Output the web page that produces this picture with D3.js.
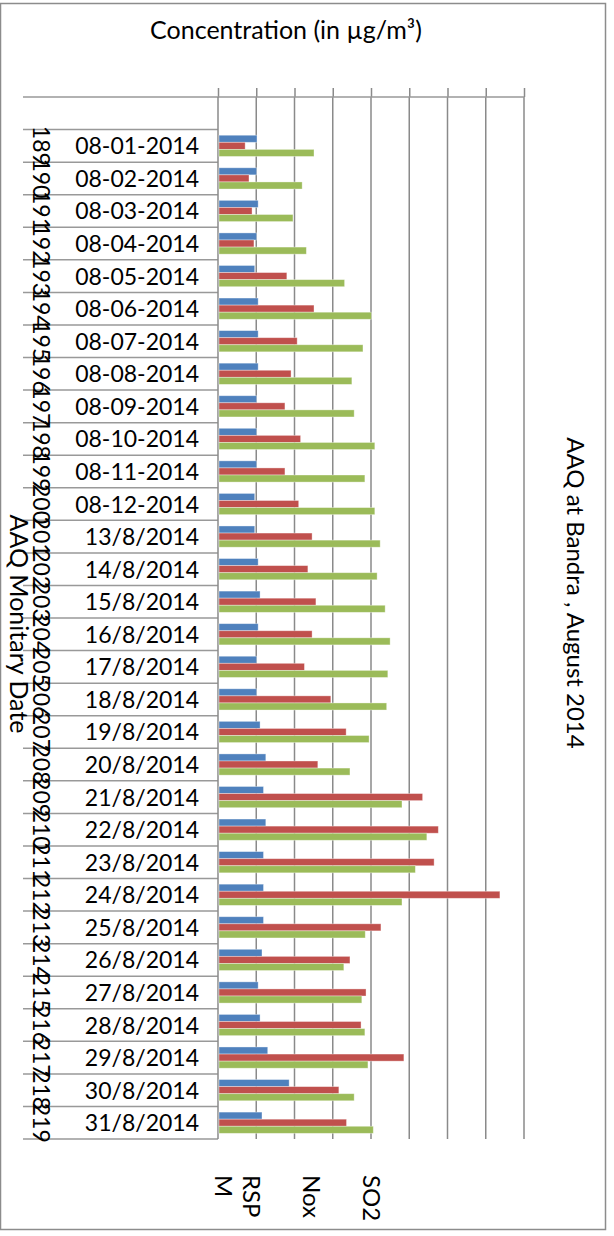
<!DOCTYPE html>
<html>
<head>
<meta charset="utf-8">
<script src="https://cdn.jsdelivr.net/npm/d3@7"></script>
<style>
  html, body { margin: 0; padding: 0; background: #fff; }
  svg { display: block; font-family: Lato, "Open Sans", "Liberation Sans", sans-serif; }
</style>
</head>
<body>
<svg id="chart" width="614" height="1236"></svg>
<script>
// ---- data ----
const dates = [
  "08-01-2014","08-02-2014","08-03-2014","08-04-2014","08-05-2014","08-06-2014",
  "08-07-2014","08-08-2014","08-09-2014","08-10-2014","08-11-2014","08-12-2014",
  "13/8/2014","14/8/2014","15/8/2014","16/8/2014","17/8/2014","18/8/2014",
  "19/8/2014","20/8/2014","21/8/2014","22/8/2014","23/8/2014","24/8/2014",
  "25/8/2014","26/8/2014","27/8/2014","28/8/2014","29/8/2014","30/8/2014","31/8/2014"
];
const recordIds = [189,190,191,192,193,194,195,196,197,198,199,200,201,202,203,204,205,206,207,208,209,210,211,212,213,214,215,216,217,218,219];
const seriesNames = ["RSPM", "Nox", "SO2"];
const rspm = [10.2,10.1,10.5,10.1,9.6,10.5,10.5,10.5,10.1,10.1,10.1,9.6,9.6,10.5,11.0,10.5,10.1,10.1,11.0,12.5,11.9,12.5,11.9,11.9,11.9,11.5,10.5,11.0,13.0,18.6,11.5];
const nox  = [7.1,8.1,8.9,9.4,18.0,25.1,20.7,19.1,17.5,21.6,17.5,21.1,24.6,23.5,25.6,24.6,22.6,29.5,33.5,26.1,53.5,57.6,56.5,73.7,42.6,34.5,38.7,37.4,48.6,31.6,33.6];
const so2  = [25.1,22.0,19.6,23.1,33.1,40.1,37.9,35.0,35.6,41.0,38.4,41.0,42.4,41.6,43.7,45.0,44.4,44.1,39.5,34.5,48.1,54.6,51.6,48.1,38.5,32.9,37.6,38.4,39.2,35.6,40.6];
const valueTicks = [0,10,20,30,40,50,60,70,80];
const seriesColors = ["#4F81BD", "#C0504D", "#9BBB59"];

const titleText = "AAQ at Bandra , August 2014";
const valueAxisTitle = "Concentration (in \u00B5g/m\u00B3)";
const categoryAxisTitle = "AAQ Monitary Date";

// ---- layout ----
const svg = d3.select("#chart");
const gridColor = "#8a8a8a";
const plotTop = 97, plotBottom = 1139, plotLeft = 218, plotRight = 524;
const labelLeft = 23;

// outer border
svg.append("rect").attr("x", 0.5).attr("y", 3.5).attr("width", 605).attr("height", 1226)
  .attr("fill", "#fff").attr("stroke", "#8c8c8c").attr("stroke-width", 1.5);

const x = d3.scaleLinear().domain([0, 80]).range([plotLeft, plotRight]);
const rows = [""].concat(dates); // first row is empty in the reference
const y = d3.scaleBand().domain(rows).range([plotTop, plotBottom]);
const yInner = d3.scaleBand().domain(seriesNames).range([0, y.bandwidth()]).paddingOuter(0.8);

// vertical gridlines
svg.append("g").selectAll("line").data(valueTicks.slice(1)).join("line")
  .attr("x1", d => x(d)).attr("x2", d => x(d))
  .attr("y1", plotTop).attr("y2", plotBottom)
  .attr("stroke", gridColor).attr("stroke-width", 1.5);

// value axis on top (no labels, ticks upward)
const xAxis = d3.axisTop(x).tickValues(valueTicks).tickSize(9).tickFormat("");
const gx = svg.append("g").attr("transform", `translate(0,${plotTop})`).call(xAxis);
gx.select(".domain").remove();
gx.selectAll(".tick line").attr("stroke", gridColor).attr("stroke-width", 1.5);

// category separators (multi-level label boxes)
const boundaries = rows.map(r => y(r)).concat([plotBottom]);
svg.append("g").selectAll("line").data(boundaries).join("line")
  .attr("x1", labelLeft).attr("x2", (d, i) => i === 0 ? plotRight : plotLeft)
  .attr("y1", d => d).attr("y2", d => d)
  .attr("stroke", "#999").attr("stroke-width", 1.5);

// category axis line
svg.append("line").attr("x1", plotLeft).attr("x2", plotLeft)
  .attr("y1", plotTop).attr("y2", plotBottom)
  .attr("stroke", gridColor).attr("stroke-width", 1.5);

// bars
const seriesData = [rspm, nox, so2];
const barRows = dates.map((d, i) => ({ date: d, values: seriesNames.map((s, k) => ({ s, k, v: seriesData[k][i] })) }));
const groups = svg.append("g").selectAll("g").data(barRows).join("g")
  .attr("transform", d => `translate(0,${y(d.date)})`);
groups.selectAll("rect").data(d => d.values).join("rect")
  .attr("x", x(0) + 1)
  .attr("y", d => yInner(d.s))
  .attr("width", d => x(d.v) - x(0) - 1)
  .attr("height", yInner.bandwidth())
  .attr("fill", d => seriesColors[d.k])
  .attr("stroke", "rgba(255,255,255,0.45)").attr("stroke-width", 0.8);

// date labels
svg.append("g").selectAll("text").data(dates).join("text")
  .attr("x", 199).attr("y", d => y(d) + y.bandwidth() / 2 + 8.5)
  .attr("text-anchor", "end").attr("font-size", 23).attr("fill", "#000")
  .text(d => d);

// record id labels (rotated)
svg.append("g").selectAll("text").data(recordIds).join("text")
  .attr("transform", (d, i) => `translate(33,${y(dates[i]) + y.bandwidth() / 2}) rotate(90)`)
  .attr("text-anchor", "middle").attr("font-size", 23).attr("fill", "#000")
  .text(d => d);

// value axis title
svg.append("text").attr("x", 286).attr("y", 39).attr("text-anchor", "middle")
  .attr("font-size", 25).attr("fill", "#000").text(valueAxisTitle);

// category axis title (rotated)
svg.append("text").attr("transform", "translate(10,624) rotate(90)")
  .attr("text-anchor", "middle").attr("font-size", 25).attr("fill", "#000")
  .text(categoryAxisTitle);

// chart title (rotated, right side)
svg.append("text").attr("transform", "translate(567,593) rotate(90)")
  .attr("text-anchor", "middle").attr("font-size", 24).attr("fill", "#000")
  .text(titleText);

// legend (rotated text, "RSPM" wraps to two lines)
const legendItems = [
  { lines: ["RSP", "M"], x: 243 },
  { lines: ["Nox"], x: 303 },
  { lines: ["SO2"], x: 363 }
];
const lg = svg.append("g").selectAll("g").data(legendItems).join("g")
  .attr("transform", d => `translate(${d.x},1175) rotate(90)`);
lg.selectAll("text").data(d => d.lines).join("text")
  .attr("x", 0).attr("y", (d, i) => i * 28)
  .attr("font-size", 24).attr("fill", "#000")
  .text(d => d);
</script>
</body>
</html>
